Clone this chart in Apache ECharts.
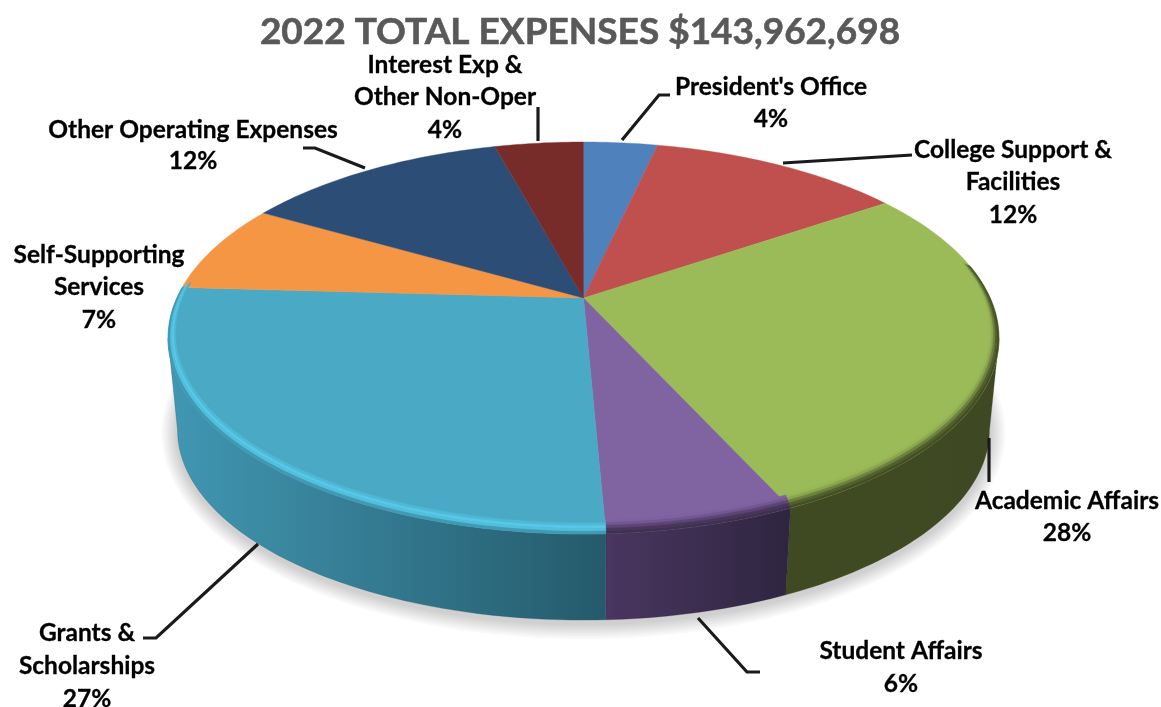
<!DOCTYPE html>
<html>
<head>
<meta charset="utf-8">
<style>html,body{margin:0;padding:0;background:#fff}#c{width:1161px;height:707px}</style>
<script src="https://cdn.jsdelivr.net/npm/echarts@6/dist/echarts.min.js"></script>
</head>
<body>
<div id="c"></div>
<script>
// ---- data ----
const titleText = '2022 TOTAL EXPENSES $143,962,698';
const categories = ['President\'s Office','College Support &\nFacilities','Academic Affairs','Student Affairs','Grants &\nScholarships','Self-Supporting\nServices','Other Operating Expenses','Interest Exp &\nOther Non-Oper'];
const values = [3.5,12.0,27.7,6.1,26.6,7.4,12.5,4.2];
const shownPercents = [4,12,28,6,27,7,12,4];

// ---- style ----
const topColors = ['#4f81bd','#bf504d','#9bbb59','#8064a2','#4aa9c4','#f59645','#2c4d75','#772c2a'];
const wallColors = [['#3a5f8c','#3a5f8c'],['#8e3b39','#8e3b39'],['#404a22','#3e4822'],['#4a3660','#2e2540'],['#4197b3','#255a6b'],['#b56d33','#b56d33'],['#203853','#203853'],['#55201e','#55201e']];
const lipRamps = {
  2:['#98b757','#8aa64f','#6d8240','#525f2e','#434e25'],
  3:['#7e62a0','#715793','#5b4675','#48375c','#403150'],
  4:['#4aaac5','#4fb8d5','#58c8e8','#52bfdc','#4199b4']
};
// ---- layout ----
const cx=583.5, apexY=298, backY=142, frontY=534, outerRx=415.5, outerCy=338, outerRy=196;
const c=(2*apexY-backY-frontY)/(frontY-backY);
const a=frontY*(1+c)-apexY;
const ssE=(outerCy-apexY)/(a-c*outerCy);
const dd=outerRx*(1+c*ssE)/Math.sqrt(1-ssE*ssE);
function rim(deg){
  const r=deg*Math.PI/180, s=-Math.cos(r), den=1+c*s;
  return [cx+dd*Math.sin(r)/den,(apexY+a*s)/den];
}
const tangentDeg=Math.acos(-ssE)*180/Math.PI;      // rim's rightmost point; 360 minus it is the leftmost
const innerRx=406, innerRy=189, innerCy=331;
function inner(p){return [cx+(p[0]-cx)*innerRx/outerRx, innerCy+(p[1]-outerCy)*innerRy/outerRy];}
const baseRatioX=0.977, baseCy=430, baseRatioY=0.97;
function base(p){return [cx+(p[0]-cx)*baseRatioX, baseCy+(p[1]-outerCy)*baseRatioY];}
function arc(d0,d1){const n=Math.max(2,Math.ceil(Math.abs(d1-d0)));const out=[];for(let i=0;i<=n;i++)out.push(rim(d0+(d1-d0)*i/n));return out;}
function lerp(p,q,t){return [p[0]+(q[0]-p[0])*t,p[1]+(q[1]-p[1])*t];}
const lipStartDeg=80, lipEndDeg=276;
const total=values.reduce((x,y)=>x+y,0);
const shadowSpreads=[16,14,12,10,8,6,4,2], shadowDrop=3;

const labelLayout=[
 {x:771,y:[87,119]},
 {x:1013,y:[150,182,215]},
 {x:1067,y:[501,533]},
 {x:901,y:[651,684]},
 {x:87,y:[633,666,699]},
 {x:99,y:[255,287,320]},
 {x:193,y:[130,161]},
 {x:445,y:[65,97,130]}
];
const leaderPaths=[
 [[622,140],[659,95],[670,95]],
 [[783,163],[912,155]],
 [[989,438],[989,482]],
 [[698,618],[747,672],[760,672]],
 [[258,544],[156,638],[143,638]],
 null,
 [[365,168],[315,148],[303,148]],
 [[538,107],[538,141]]
];

function renderSlice(params,api){
  const i=params.dataIndex;
  let cum=0; for(let k=0;k<i;k++)cum+=values[k];
  const d0=cum/total*360, d1=(cum+api.value(0))/total*360;
  const outer=arc(d0,d1);
  const children=[];
  // soft shadow under the whole disc, drawn once as stacked translucent rings
  if(i===0){
    const ring=arc(0,360).map(base);
    shadowSpreads.forEach((sp,j)=>{
      const fx=1+sp/(outerRx*baseRatioX), fy=1+sp/(outerRy*baseRatioY);
      const pts=ring.map(p=>[cx+(p[0]-cx)*fx, baseCy+shadowDrop+(p[1]-baseCy)*fy]);
      children.push({type:'polygon',z2:1,shape:{points:pts},style:{fill:'rgba(0,0,0,0.022)'}});
    });
  }
  // wall: only the rim between the left and right tangents faces the viewer
  const w0=Math.max(d0,tangentDeg), w1=Math.min(d1,360-tangentDeg);
  if(w1>w0){
    const up=arc(w0,w1), low=up.map(base);
    children.push({type:'polygon',z2:2,shape:{points:up.concat(low.slice().reverse())},style:{
      fill:new echarts.graphic.LinearGradient(0,0,1,0,[{offset:0,color:wallColors[i][0]},{offset:1,color:wallColors[i][1]}]),
      stroke:wallColors[i][1],lineWidth:0.3}});
  }
  children.push({type:'polygon',z2:3,shape:{points:[[cx,apexY]].concat(outer)},style:{fill:topColors[i],stroke:topColors[i],lineWidth:0.4}});
  const ramp=lipRamps[i];
  if(ramp){
    const s=Math.max(d0,lipStartDeg), e=Math.min(d1,lipEndDeg);
    const pts=arc(s,e);
    const n=ramp.length;
    for(let k=0;k<n;k++){
      const t0=k/n,t1=(k+1)/n;
      const aPts=pts.map(p=>lerp(inner(p),p,t0));
      const bPts=pts.map(p=>lerp(inner(p),p,t1));
      children.push({type:'polygon',z2:4,shape:{points:aPts.concat(bPts.reverse())},style:{fill:ramp[k],stroke:ramp[k],lineWidth:0.4}});
    }
  }
  return {type:'group',children};
}

const textFont='Lato';
const graphics=[];
categories.forEach((cat,i)=>{
  const lines=cat.split('\n').concat([shownPercents[i]+'%']);
  lines.forEach((ln,j)=>{
    graphics.push({type:'text',z:20,x:labelLayout[i].x,y:labelLayout[i].y[j],style:{text:ln,fontFamily:textFont,fontWeight:'bold',fontSize:24.5,fill:'#000',stroke:'#000',lineWidth:0.3,textAlign:'center',textVerticalAlign:'middle'}});
  });
  if(leaderPaths[i]) graphics.push({type:'polyline',z:19,shape:{points:leaderPaths[i]},style:{stroke:'#1a1a1a',lineWidth:3.2,fill:null}});
});

const chart=echarts.init(document.getElementById('c'),null,{renderer:'canvas',width:1161,height:707});
chart.setOption({
  animation:false,
  backgroundColor:'#fff',
  title:{text:titleText,left:575,top:9,textAlign:'center',textStyle:{fontFamily:textFont,fontWeight:'bold',fontSize:37,color:'#595959',textBorderColor:'#595959',textBorderWidth:0.6}},
  series:[{type:'custom',coordinateSystem:'none',renderItem:renderSlice,data:values.map((v,i)=>({name:categories[i],value:[v]})),silent:true,clip:false}],
  graphic:graphics
});
</script>
</body>
</html>
